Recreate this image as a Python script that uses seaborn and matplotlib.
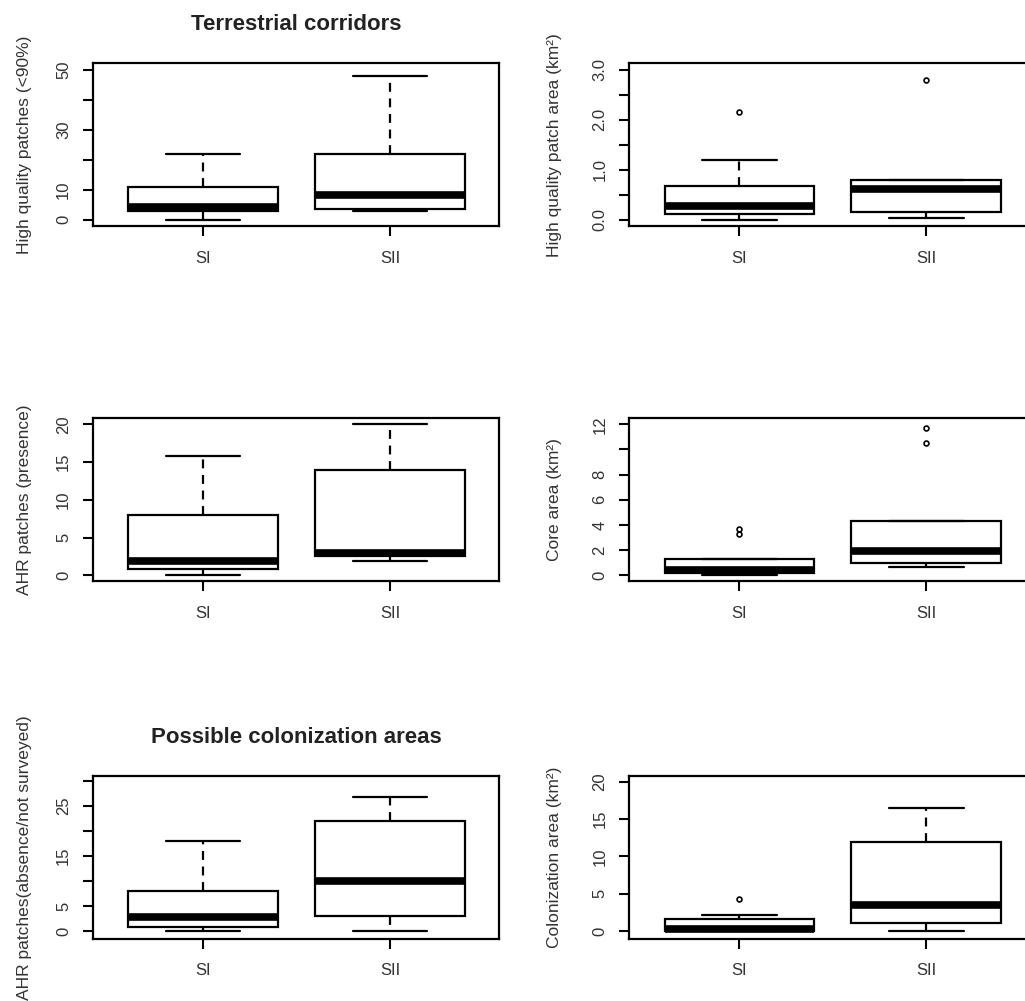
import matplotlib
matplotlib.use("Agg")
import pandas as pd
import matplotlib.pyplot as plt
import seaborn as sns

SITES = ["SI", "SII"]

# five-number summaries:
# [lower whisker, Q1, median, Q3, upper whisker]
hq_patches_si = [0, 3.0, 4.2, 11, 22]
hq_patches_sii = [3, 3.5, 8.2, 22, 48]
hq_area_si = [0.0, 0.12, 0.28, 0.68, 1.2]
hq_area_sii = [0.03, 0.16, 0.62, 0.79, 0.79]
ahr_presence_si = [0, 0.8, 1.9, 8, 15.8]
ahr_presence_sii = [1.9, 2.5, 2.9, 13.9, 20]
core_area_si = [0, 0.16, 0.42, 1.3, 1.3]
core_area_sii = [0.65, 0.95, 1.92, 4.3, 4.3]
ahr_absence_si = [0, 0.8, 2.8, 8, 18]
ahr_absence_sii = [0, 2.9, 10, 22, 26.8]
colon_area_si = [0, 0, 0.3, 1.6, 2.2]
colon_area_sii = [0, 1.1, 3.5, 11.9, 16.5]

# points drawn outside the whiskers
hq_area_out_si = [2.15]
hq_area_out_sii = [2.8]
core_area_out_si = [3.25, 3.65]
core_area_out_sii = [10.5, 11.7]
colon_area_out_si = [4.25]

# y ticks / labels per panel ('' = unlabeled tick)
hq_patches_ticks = [0, 10, 20, 30, 40, 50]
hq_patches_labels = ["0", "10", "", "30", "", "50"]
hq_area_ticks = [0, 0.5, 1, 1.5, 2, 2.5, 3]
hq_area_labels = ["0.0", "", "1.0", "", "2.0", "", "3.0"]
ahr_presence_ticks = [0, 5, 10, 15, 20]
ahr_presence_labels = ["0", "5", "10", "15", "20"]
core_area_ticks = [0, 2, 4, 6, 8, 10, 12]
core_area_labels = ["0", "2", "4", "6", "8", "", "12"]
ahr_absence_ticks = [0, 5, 10, 15, 20, 25, 30]
ahr_absence_labels = ["0", "5", "", "15", "", "25", ""]
colon_area_ticks = [0, 5, 10, 15, 20]
colon_area_labels = ["0", "5", "10", "15", "20"]


def sample(stats, outliers=()):
    """Small sample whose quartiles / whiskers reproduce the given summary."""
    lo, q1, med, q3, hi = stats
    k = 3
    m = len(outliers)
    return [lo] * k + [q1] * k + [med] * k + [q3] * (k - m) + [hi] + list(outliers)


def frame(si, sii):
    return pd.DataFrame({
        "site": [SITES[0]] * len(si) + [SITES[1]] * len(sii),
        "value": si + sii,
    })


sns.set_style("white")
plt.rcParams.update({
    "font.family": ["Liberation Sans", "DejaVu Sans"],
    "font.size": 12,
    "text.color": "#333333",
    "axes.labelcolor": "#333333",
    "xtick.color": "black",
    "ytick.color": "black",
    "xtick.labelcolor": "#333333",
    "ytick.labelcolor": "#333333",
    "xtick.bottom": True,
    "ytick.left": True,
})

panels = [
    (frame(sample(hq_patches_si), sample(hq_patches_sii)),
     "High quality patches (<90%)", (-2.2, 52.2), hq_patches_ticks, hq_patches_labels,
     "Terrestrial corridors"),
    (frame(sample(hq_area_si, hq_area_out_si), sample(hq_area_sii, hq_area_out_sii)),
     "High quality patch area (km²)", (-0.133, 3.13), hq_area_ticks, hq_area_labels, None),
    (frame(sample(ahr_presence_si), sample(ahr_presence_sii)),
     "AHR patches (presence)", (-0.8, 20.8), ahr_presence_ticks, ahr_presence_labels, None),
    (frame(sample(core_area_si, core_area_out_si), sample(core_area_sii, core_area_out_sii)),
     "Core area (km²)", (-0.48, 12.48), core_area_ticks, core_area_labels, None),
    (frame(sample(ahr_absence_si), sample(ahr_absence_sii)),
     "AHR patches(absence/not surveyed)", (-1.6, 30.9), ahr_absence_ticks, ahr_absence_labels,
     "Possible colonization areas"),
    (frame(sample(colon_area_si, colon_area_out_si), sample(colon_area_sii)),
     "Colonization area (km²)", (-1.08, 20.76), colon_area_ticks, colon_area_labels, None),
]

W, H = 1025, 1001
fig = plt.figure(figsize=(W / 100, H / 100), dpi=100)
fig.patch.set_facecolor("white")

col_left = [92.7, 629.0]
row_top = [63.3, 418.3, 776.0]
ax_w, ax_h = 406.6, 163.0

for i, (df, ylabel, ylim, ticks, labels, title) in enumerate(panels):
    r, c = divmod(i, 2)
    left = col_left[c] / W
    bottom = 1 - (row_top[r] + ax_h) / H
    ax = fig.add_axes([left, bottom, ax_w / W, ax_h / H])

    sns.boxplot(
        data=df, x="site", y="value", order=SITES, ax=ax,
        color="white", saturation=1, width=0.8, linewidth=1.6, linecolor="black",
        whis=1.5,
        boxprops={"edgecolor": "black", "facecolor": "white"},
        medianprops={"color": "black", "linewidth": 5.5, "solid_capstyle": "butt"},
        whiskerprops={"color": "black", "linewidth": 1.6, "linestyle": (0, (4, 3))},
        capprops={"color": "black", "linewidth": 1.6},
        flierprops={"marker": "o", "markersize": 3.5, "markerfacecolor": "none",
                    "markeredgecolor": "black", "markeredgewidth": 1.2},
    )

    ax.set_xlim(-0.59, 1.585)
    ax.set_ylim(*ylim)
    ax.set_yticks(ticks)
    ax.set_yticklabels(labels, rotation=90, va="center")
    ax.set_xlabel("")
    ax.set_ylabel(ylabel, fontsize=12.5)
    ax.yaxis.set_label_coords(-0.15 if c == 0 else -0.166, 0.5)

    ax.tick_params(axis="both", direction="out", length=7.5, width=1.5, labelsize=12,
                   bottom=True, left=True)
    ax.tick_params(axis="y", pad=8)
    ax.tick_params(axis="x", pad=10)
    for sp in ax.spines.values():
        sp.set_visible(True)
        sp.set_color("black")
        sp.set_linewidth(1.6)

    if title:
        ax.set_title(title, fontsize=16, fontweight="bold", pad=24, color="#222222")

fig.savefig("out.png", dpi=100, facecolor="white")
